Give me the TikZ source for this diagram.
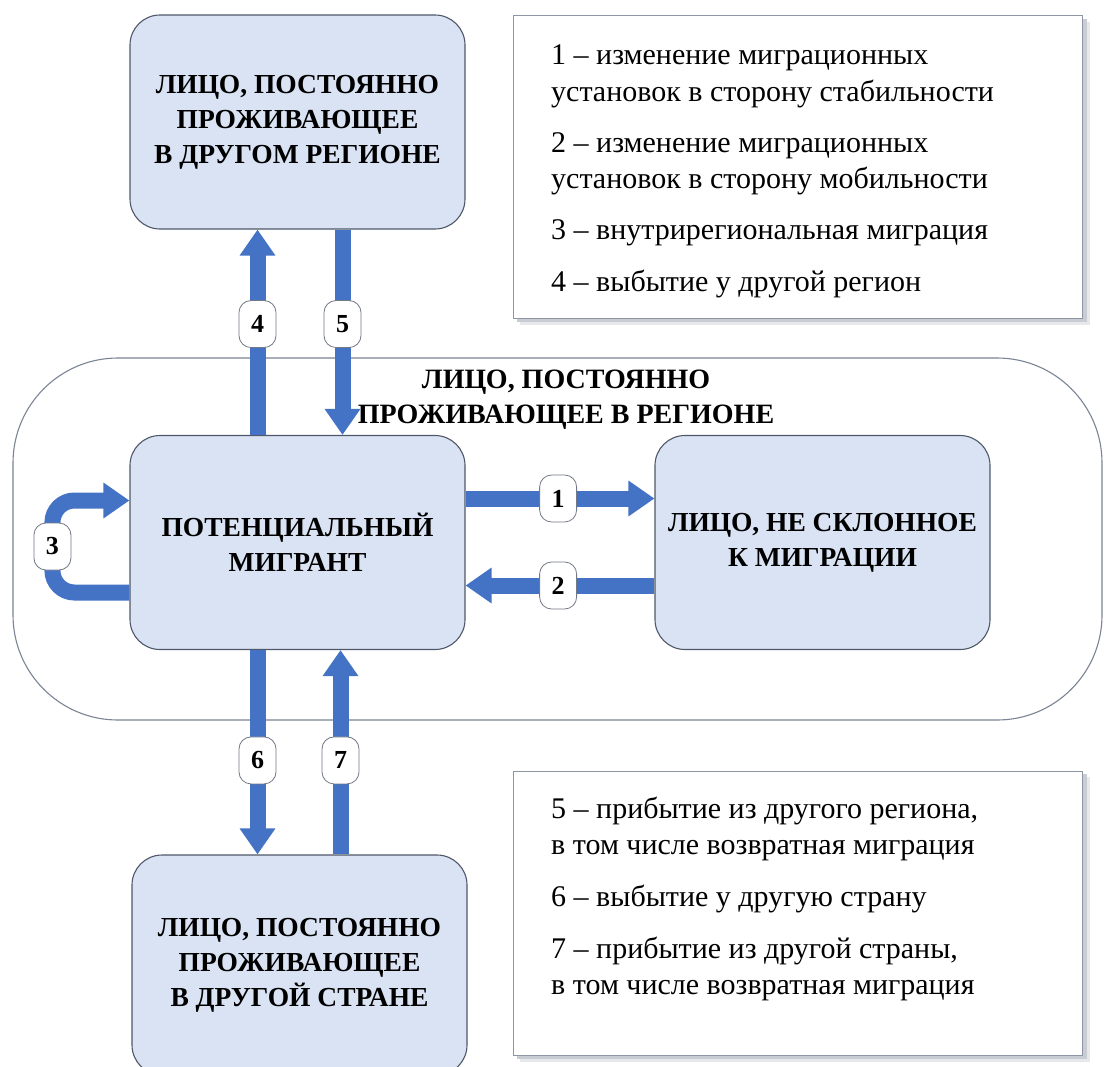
\documentclass[tikz,border=0pt]{standalone}
\usepackage{fontspec}
\setmainfont{Liberation Serif}
\newfontfamily\tnr{Liberation Serif}
\usetikzlibrary{arrows.meta,calc}
\definecolor{arrowblue}{HTML}{4472C4}
\definecolor{boxfill}{HTML}{DAE3F3}
\definecolor{boxline}{HTML}{4F5868}
\definecolor{frameline}{HTML}{7A8494}
\definecolor{legline}{HTML}{8C96A6}
\definecolor{shade1}{HTML}{C9CDD3}
\definecolor{shade2}{HTML}{E6E8EB}
\begin{document}
\begin{tikzpicture}[x=1pt,y=-1pt,
 box/.style={draw=boxline, line width=1.1pt, fill=boxfill, rounded corners=30pt,
   minimum width=335pt, minimum height=214pt, align=center,
   font=\tnr\bfseries\fontsize{27.5}{35}\selectfont, inner sep=0pt},
 flow/.style={draw=arrowblue, line width=16pt, -{Triangle[width=34pt,length=26pt]}},
 lbl/.style={draw=boxline!80, line width=0.8pt, fill=white, rounded corners=12pt,
   minimum width=37pt, minimum height=47pt, inner sep=0pt,
   font=\tnr\bfseries\fontsize{26}{30}\selectfont, text=black},
 legbox/.style={draw=legline, line width=1pt, fill=white, inner sep=0pt},
 legtxt/.style={anchor=base west, inner sep=0pt, font=\tnr\fontsize{30}{36}\selectfont},
]
\useasboundingbox (0,0) rectangle (1105,1066);
\fill[white] (0,0) rectangle (1105,1066);

% region container
\node[draw=frameline, line width=1.1pt, rounded corners=105pt,
  minimum width=1089pt, minimum height=362pt, inner sep=0pt] (region) at (557.5,539) {};
\node[align=center, font=\tnr\bfseries\fontsize{28}{35}\selectfont, inner sep=0pt]
  (regtitle) at (566,400) {ЛИЦО, ПОСТОЯННО\\ПРОЖИВАЮЩЕЕ В РЕГИОНЕ};

% boxes
\node[box] (top) at (297.5,122) {ЛИЦО, ПОСТОЯННО\\ПРОЖИВАЮЩЕЕ\\В ДРУГОМ РЕГИОНЕ};
\node[box] (pm) at (297.5,542.5) {ПОТЕНЦИАЛЬНЫЙ\\МИГРАНТ};
\node[box] (nm) at (822.5,542.5) {ЛИЦО, НЕ СКЛОННОЕ\\К МИГРАЦИИ};
\node[box, minimum height=220pt] (bot) at (299.5,965) {ЛИЦО, ПОСТОЯННО\\ПРОЖИВАЮЩЕЕ\\В ДРУГОЙ СТРАНЕ};

% arrows
\draw[flow] ([xshift=-40pt]pm.north) -- node[lbl, pos=0.54] (n4) {4} ([xshift=-40pt]pm.north |- top.south);
\draw[flow] ([xshift=45pt]pm.north |- top.south) -- node[lbl, pos=0.46] (n5) {5} ([xshift=45pt]pm.north);
\draw[flow] ([xshift=-40pt]pm.south) -- node[lbl, pos=0.54] (n6) {6} ([xshift=-40pt]pm.south |- bot.north);
\draw[flow] ([xshift=43pt]pm.south |- bot.north) -- node[lbl, pos=0.46] (n7) {7} ([xshift=43pt]pm.south);
\draw[flow] ([yshift=44pt]pm.east) -- node[lbl, pos=0.49] (n1) {1} ([yshift=44pt]pm.east -| nm.west);
\draw[flow] ([yshift=-43pt]nm.west) -- node[lbl, pos=0.51] (n2) {2} ([yshift=-43pt]nm.west -| pm.east);
\draw[flow, rounded corners=22pt] ([yshift=-50pt]pm.west) -- ++(-77pt,0)
   -- node[lbl, midway] (n3) {3} ++(0,92pt) -- ([yshift=42pt]pm.west);

% legend shadows
\fill[shade2] (520,22) rectangle (1090,325);
\fill[shade1] (517,19) rectangle (1087,322);
\fill[shade2] (520,777) rectangle (1090,1062);
\fill[shade1] (517,774) rectangle (1087,1059);

% legend 1
\node[legbox, minimum width=569pt, minimum height=303pt] (leg1) at (797.5,166.5) {};
\node[legtxt] (a1) at (551,64) {1 – изменение миграционных};
\node[legtxt] (a1b) at (551,101) {установок в сторону стабильности};
\node[legtxt] (a2) at (551,152) {2 – изменение миграционных};
\node[legtxt] (a2b) at (551,188) {установок в сторону мобильности};
\node[legtxt] (a3) at (551,239) {3 – внутрирегиональная миграция};
\node[legtxt] (a4) at (551,291) {4 – выбытие у другой регион};

% legend 2
\node[legbox, minimum width=569pt, minimum height=284pt] (leg2) at (797.5,913) {};
\node[legtxt] (b5) at (551,818) {5 – прибытие из другого региона,};
\node[legtxt] (b5b) at (551,854) {в том числе возвратная миграция};
\node[legtxt] (b6) at (551,906) {6 – выбытие у другую страну};
\node[legtxt] (b7) at (551,958) {7 – прибытие из другой страны,};
\node[legtxt] (b7b) at (551,994) {в том числе возвратная миграция};
\end{tikzpicture}
\end{document}
